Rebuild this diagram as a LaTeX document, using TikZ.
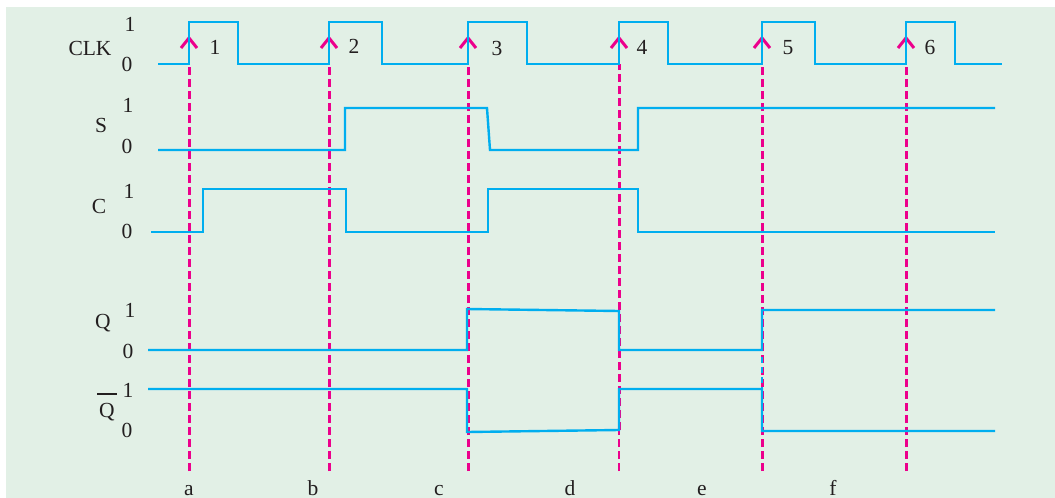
\documentclass[tikz,border=0pt]{standalone}
\usepackage{fontspec}
\setmainfont{Liberation Serif}
\definecolor{bg}{HTML}{E2F0E6}
\definecolor{wavec}{HTML}{00AEEF}
\definecolor{mag}{HTML}{EC008C}
\definecolor{ink}{HTML}{231F20}
\begin{document}
\begin{tikzpicture}[x=1pt,y=-1pt,
 wave/.style={draw=wavec,line width=2.4pt,line join=miter},
 clkline/.style={draw=mag,line width=3pt,dash pattern=on 8pt off 4pt},
 chev/.style={draw=mag,line width=3pt,line join=miter},
 lbl/.style={anchor=base,text=ink,inner sep=0pt,font=\fontsize{21.5}{24}\selectfont}]
\useasboundingbox (0,0) rectangle (1055,498);
\fill[white] (0,0) rectangle (1055,498);
\fill[bg] (6,7) rectangle (1055,498);

% dashed clock-edge markers
\foreach \x/\n in {189/a,329/b,468/c,762/e,906/f}{
  \coordinate (top\n) at (\x,64);
  \coordinate (bot\n) at (\x,471);
  \draw[clkline] (bot\n) -- (top\n);
}
\coordinate (topd) at (619,64);
\coordinate (midd) at (619,430);
\coordinate (botd) at (619,471);
\draw[clkline] (midd) -- (topd);
\draw[clkline,line width=1.8pt] (botd) -- (midd);

% chevrons
\foreach \x in {189,329,468,619,762,906}{
  \draw[chev] (\x-8,48) -- (\x,38) -- (\x+8,48);
}

% waveforms
\draw[wave] (158,64) -- (189,64) -- (189,22) -- (238,22) -- (238,64) -- (329,64) -- (329,22) -- (382,22) -- (382,64) -- (468,64) -- (468,22) -- (527,22) -- (527,64) -- (619,64) -- (619,22) -- (668,22) -- (668,64) -- (762,64) -- (762,22) -- (815,22) -- (815,64) -- (906,64) -- (906,22) -- (955,22) -- (955,64) -- (1002,64);
\draw[wave] (158,150) -- (345,150) -- (345,108) -- (487,108) -- (490,150) -- (638,150) -- (638,108) -- (995,108);
\draw[wave] (151,232) -- (203,232) -- (203,189) -- (346,189) -- (346,232) -- (488,232) -- (488,189) -- (638,189) -- (638,232) -- (995,232);
\draw[wave] (148,350) -- (467,350) -- (467,309) -- (619,311) -- (619,350) -- (762,350) -- (762,310) -- (995,310);
\draw[wave] (148,389) -- (467,389) -- (467,432) -- (619,430) -- (619,389) -- (762,389) -- (762,431) -- (995,431);
\draw[wave,line width=1.8pt,dash pattern=on 6pt off 4pt] (762,357) -- (762,389);

% row labels
\node[lbl] (lclk) at (90,55) {CLK};
\node[lbl] (lclk1) at (130,31) {1};
\node[lbl] (lclk0) at (127,71) {0};
\node[lbl] (ls) at (101,132) {S};
\node[lbl] (ls1) at (128,112) {1};
\node[lbl] (ls0) at (127,153) {0};
\node[lbl] (lc) at (99,213) {C};
\node[lbl] (lc1) at (129,198) {1};
\node[lbl] (lc0) at (127,238) {0};
\node[lbl] (lq) at (103,328) {Q};
\node[lbl] (lq1) at (130,317) {1};
\node[lbl] (lq0) at (128,358) {0};
\node[lbl] (lqb) at (107,417) {Q};
\draw[ink,line width=1.5pt] ([xshift=-10pt]lqb.base |- 0,394) -- ([xshift=10pt]lqb.base |- 0,394);
\node[lbl] (lqb1) at (128,397) {1};
\node[lbl] (lqb0) at (127,437) {0};

% pulse numbers
\node[lbl] (p1) at (215,54) {1};
\node[lbl] (p2) at (354,53) {2};
\node[lbl] (p3) at (497,55) {3};
\node[lbl] (p4) at (642,54) {4};
\node[lbl] (p5) at (788,54) {5};
\node[lbl] (p6) at (930,54) {6};

% bottom letters
\node[lbl] (ba) at (189,495) {a};
\node[lbl] (bb) at (313,495) {b};
\node[lbl] (bc) at (439,495) {c};
\node[lbl] (bd) at (570,495) {d};
\node[lbl] (be) at (702,495) {e};
\node[lbl] (bf) at (833,495) {f};
\end{tikzpicture}
\end{document}
